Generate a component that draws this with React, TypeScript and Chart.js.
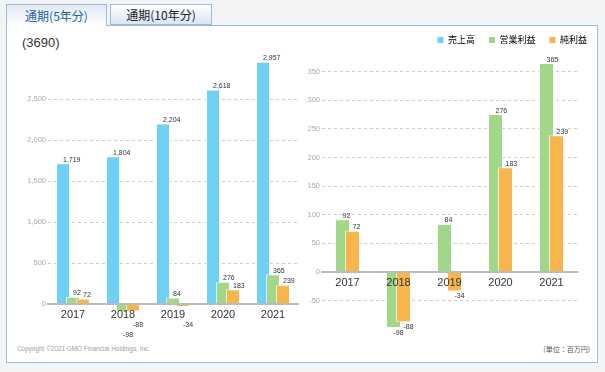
import { useEffect, useRef } from 'react';
import { Chart, registerables } from 'chart.js';

Chart.register(...registerables);

const FONT = "'Liberation Sans', 'Noto Sans CJK JP', sans-serif";
const CJK = "'Noto Sans CJK JP', 'Liberation Sans', sans-serif";

const years = ['2017', '2018', '2019', '2020', '2021'];
const sales = [1719, 1804, 2204, 2618, 2957];
const operatingProfit = [92, -98, 84, 276, 365];
const netProfit = [72, -88, -34, 183, 239];
const seriesNames = ['売上高', '営業利益', '純利益'];
const seriesColors = ['#6ed0f2', '#a2d688', '#f7b54c'];
const leftTicks = [0, 500, 1000, 1500, 2000, 2500];
const rightTicks = [-50, 0, 50, 100, 150, 200, 250, 300, 350];

const fmt = (v: number) => Number(v).toLocaleString('en-US');

const orderPlugin = {
  id: 'drawOrder',
  beforeDatasetsDraw(chart: any) {
    const n = chart.data.datasets.length;
    for (let i = 0; i < n; i++) {
      const meta = chart.getDatasetMeta(i);
      if (meta.visible !== false) meta.controller.draw();
    }
    return false;
  },
};

const labelPlugin = {
  id: 'barLabels',
  afterDraw(chart: any, _args: any, opts: any) {
    const ctx = chart.ctx;
    const zero = chart.scales.y.getPixelForValue(0);
    ctx.save();
    ctx.font = `7px ${FONT}`;
    ctx.fillStyle = '#333';
    ctx.textAlign = 'left';
    ctx.textBaseline = 'alphabetic';
    chart.data.datasets.forEach((ds: any, i: number) => {
      const meta = chart.getDatasetMeta(i);
      meta.data.forEach((bar: any, j: number) => {
        const v = ds.data[j];
        const { x, y } = bar.getProps(['x', 'y'], true);
        if (v >= 0) {
          ctx.fillText(fmt(v), x, y - 1.5);
        } else {
          let by = y + 7;
          const neg = opts && opts.negOffsets ? opts.negOffsets[i] : null;
          if (neg != null) by = Math.max(by, zero + neg);
          ctx.fillText(fmt(v), x, by);
        }
      });
    });
    ctx.restore();
  },
};

export default function App() {
  const leftRef = useRef<HTMLCanvasElement>(null);
  const rightRef = useRef<HTMLCanvasElement>(null);

  useEffect(() => {
    document.body.style.margin = '0';
    const xAxis = {
      type: 'category',
      position: { y: 0 },
      offset: true,
      grid: { display: true, drawOnChartArea: false, drawTicks: true, tickLength: 4, color: 'rgba(0,0,0,0)', z: 1 },
      border: { display: true, color: '#bbbbbb', width: 2, z: 1 },
      ticks: { font: { size: 11, family: FONT }, color: '#333', padding: 0, maxRotation: 0, autoSkip: false, z: 2 },
      afterFit: (s: any) => { s.height = 0; },
    };
    const yBase = (ticks: number[]) => ({
      grid: { color: '#cccccc', drawTicks: false, lineWidth: 1 },
      border: { display: false, dash: [3, 3] },
      ticks: { font: { size: 7.5, family: FONT }, color: '#aaaaaa', padding: 2, callback: (v: any) => fmt(v) },
      afterBuildTicks: (s: any) => { s.ticks = ticks.map((v) => ({ value: v })); },
    });

    const left = new Chart(leftRef.current as HTMLCanvasElement, {
      type: 'bar',
      data: {
        labels: years,
        datasets: [
          { label: seriesNames[0], data: sales, backgroundColor: seriesColors[0] },
          { label: seriesNames[1], data: operatingProfit, backgroundColor: seriesColors[1] },
          { label: seriesNames[2], data: netProfit, backgroundColor: seriesColors[2] },
        ].map((d) => ({ ...d, borderColor: 'rgba(255,255,255,0.7)', borderWidth: 1, categoryPercentage: 0.6, barPercentage: 1.4 })),
      },
      options: {
        responsive: false,
        animation: false,
        layout: { padding: { left: 0, right: 2, top: 58.3, bottom: 32.5 } },
        plugins: { legend: { display: false }, tooltip: { enabled: false }, barLabels: { negOffsets: [null, 33, 22.7] } } as any,
        scales: {
          x: xAxis as any,
          y: { ...yBase(leftTicks), min: -100, max: 3000, afterFit: (s: any) => { s.width = 48; } } as any,
        },
      },
      plugins: [orderPlugin, labelPlugin],
    });

    const right = new Chart(rightRef.current as HTMLCanvasElement, {
      type: 'bar',
      data: {
        labels: years,
        datasets: [
          { label: seriesNames[1], data: operatingProfit, backgroundColor: seriesColors[1] },
          { label: seriesNames[2], data: netProfit, backgroundColor: seriesColors[2] },
        ].map((d) => ({ ...d, borderColor: 'rgba(255,255,255,0.7)', borderWidth: 1, categoryPercentage: 0.392, barPercentage: 1.5 })),
      },
      options: {
        responsive: false,
        animation: false,
        layout: { padding: { left: 0, right: 4, top: 21.5, bottom: 15.8 } },
        plugins: {
          tooltip: { enabled: false },
          legend: {
            position: 'top',
            align: 'end',
            labels: {
              boxWidth: 6,
              boxHeight: 6,
              padding: 14,
              color: '#333',
              font: { size: 9, family: CJK },
              generateLabels: () =>
                seriesNames.map((t, i) => ({ text: t, fillStyle: seriesColors[i], strokeStyle: seriesColors[i], lineWidth: 0, hidden: false, datasetIndex: i })),
            },
          },
        } as any,
        scales: {
          x: xAxis as any,
          y: { ...yBase(rightTicks), min: -100, max: 380, afterFit: (s: any) => { s.width = 22; } } as any,
          yPad: {
            type: 'linear',
            position: 'right',
            display: true,
            grid: { display: false },
            border: { display: false },
            ticks: { display: false },
            afterFit: (s: any) => { s.width = 24; },
          } as any,
        },
      },
      plugins: [orderPlugin, labelPlugin],
    });

    return () => {
      left.destroy();
      right.destroy();
    };
  }, []);

  const tabBase: any = {
    position: 'absolute',
    top: 4,
    boxSizing: 'border-box',
    border: '1px solid #9cbcd9',
    fontFamily: CJK,
    fontSize: 12,
    textAlign: 'center',
  };

  return (
    <div style={{ position: 'relative', width: 605, height: 372, background: '#f3f4f6', overflow: 'hidden', fontFamily: FONT }}>
      <div style={{ position: 'absolute', left: 6, top: 25, width: 592, height: 338, boxSizing: 'border-box', border: '1px solid #9cbcd9', background: '#fff' }} />
      <div style={{ ...tabBase, left: 6, width: 101, height: 22, borderBottom: 'none', background: 'linear-gradient(#e2eaf4, #ffffff)', color: '#2360a5', lineHeight: '21px' }}>
        通期(5年分)
      </div>
      <div style={{ ...tabBase, left: 110, width: 102, height: 21, background: 'linear-gradient(#ffffff, #d8e5f2)', color: '#222', lineHeight: '19px' }}>
        通期(10年分)
      </div>
      <div style={{ position: 'absolute', left: 22, top: 35, fontSize: 13, lineHeight: '16px', color: '#333' }}>(3690)</div>
      <div style={{ position: 'absolute', left: 17, top: 344, fontSize: 6.4, lineHeight: '10px', color: '#a0a0a0' }}>
        Copyright ©2021 GMO Financial Holdings, Inc.
      </div>
      <div style={{ position: 'absolute', right: 15, top: 344, fontSize: 7, lineHeight: '10px', color: '#555', fontFamily: CJK }}>
        (単位：百万円)
      </div>
      <canvas ref={leftRef} width={300} height={345} style={{ position: 'absolute', left: 0, top: 0 }} />
      <canvas ref={rightRef} width={305} height={345} style={{ position: 'absolute', left: 300, top: 0 }} />
    </div>
  );
}
